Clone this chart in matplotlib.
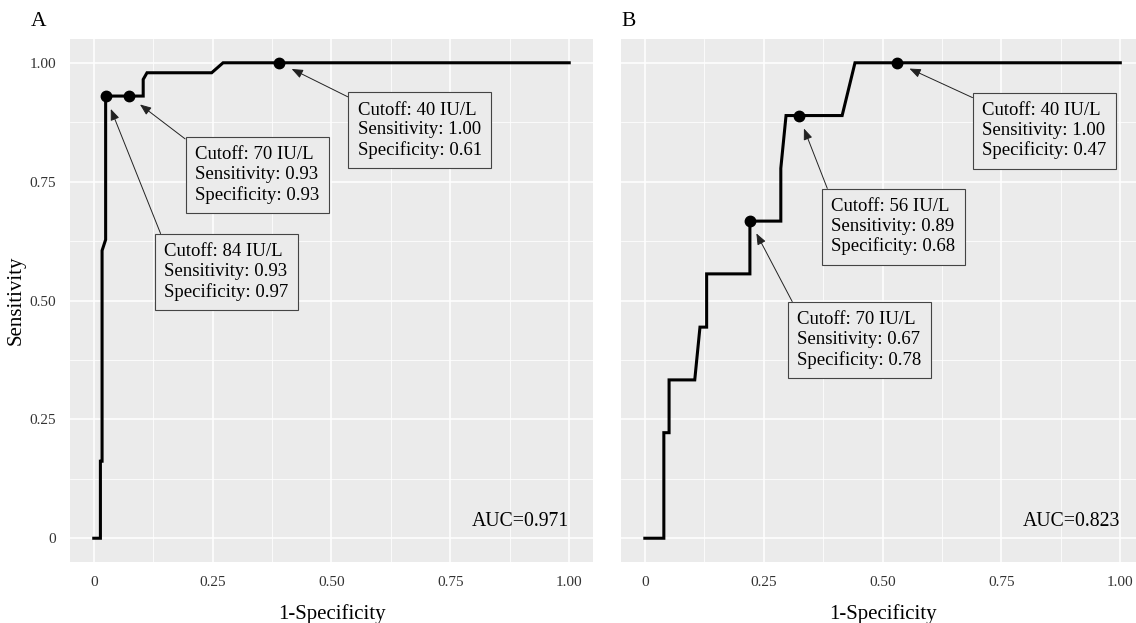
import matplotlib
matplotlib.use("Agg")
import matplotlib.pyplot as plt

plt.rcParams["font.family"] = ["Liberation Serif", "DejaVu Serif"]

# ROC curve A
a_fpr = [0.0, 0.014, 0.014, 0.0175, 0.0175, 0.025, 0.025, 0.074, 0.104, 0.104, 0.112, 0.248, 0.272, 1.0]
a_tpr = [0.0, 0.0, 0.162, 0.162, 0.605, 0.628, 0.93, 0.93, 0.93, 0.965, 0.979, 0.979, 1.0, 1.0]

# ROC curve B
b_fpr = [0.0, 0.04, 0.04, 0.051, 0.051, 0.105, 0.116, 0.13, 0.13, 0.221, 0.221,
         0.286, 0.286, 0.297, 0.415, 0.442, 1.0]
b_tpr = [0.0, 0.0, 0.222, 0.222, 0.333, 0.333, 0.444, 0.444, 0.556, 0.556, 0.667,
         0.667, 0.778, 0.889, 0.889, 1.0, 1.0]

# cutoff points: (1-specificity, sensitivity), cutoff, specificity
a_cut_x = [0.025, 0.074, 0.39]
a_cut_y = [0.93, 0.93, 1.0]
a_cut_val = [84, 70, 40]
a_cut_spec = [0.97, 0.93, 0.61]

b_cut_x = [0.221, 0.324, 0.53]
b_cut_y = [0.667, 0.889, 1.0]
b_cut_val = [70, 56, 40]
b_cut_spec = [0.78, 0.68, 0.47]

a_auc = 0.971
b_auc = 0.823

tick_vals = [0, 0.25, 0.5, 0.75, 1.0]
tick_labels = ["0", "0.25", "0.50", "0.75", "1.00"]
minor_vals = [0.125, 0.375, 0.625, 0.875]

# label box top-left corners (data coords)
a_box = [(0.129, 0.640), (0.193, 0.844), (0.535, 0.938)]
b_box = [(0.301, 0.497), (0.372, 0.735), (0.690, 0.937)]

BG = "#EBEBEB"
FS = 13.5
PAD = 0.5
PAD_D = PAD * FS * 100 / 72 / 474.5


def style_axes(ax, show_y):
    ax.set_facecolor(BG)
    ax.set_xlim(-0.05, 1.05)
    ax.set_ylim(-0.05, 1.05)
    ax.set_xticks(tick_vals)
    ax.set_xticklabels(tick_labels)
    ax.set_yticks(tick_vals)
    ax.set_yticklabels(tick_labels if show_y else [])
    ax.set_xticks(minor_vals, minor=True)
    ax.set_yticks(minor_vals, minor=True)
    ax.grid(which="major", color="white", lw=1.1)
    ax.grid(which="minor", color="white", lw=0.55)
    ax.set_axisbelow(True)
    ax.tick_params(which="both", length=0, labelsize=11, labelcolor="#333333", pad=10)
    for s in ax.spines.values():
        s.set_visible(False)
    ax.set_xlabel("1-Specificity", fontsize=15, labelpad=11)
    if show_y:
        ax.set_ylabel("Sensitivity", fontsize=15, labelpad=3)


def draw_panel(ax, fpr, tpr, cx, cy, cval, cspec, boxes, auc):
    ax.plot(fpr, tpr, color="black", lw=2.2, solid_joinstyle="miter", zorder=3)
    ax.plot(cx, cy, "o", color="black", ms=7.5, zorder=4)
    for x, y, v, sp, (bx, by) in zip(cx, cy, cval, cspec, boxes):
        txt = f"Cutoff: {v} IU/L\nSensitivity: {y:.2f}\nSpecificity: {sp:.2f}"
        ax.annotate(
            txt,
            xy=(x, y),
            xytext=(bx + PAD_D, by - PAD_D),
            ha="left",
            va="top",
            fontsize=FS,
            linespacing=1.2,
            bbox=dict(boxstyle=f"square,pad={PAD}", fc=BG, ec="#444444", lw=0.8),
            arrowprops=dict(arrowstyle="-|>,head_length=0.5,head_width=0.2",
                            color="#222222", lw=0.7, relpos=(0, 1),
                            shrinkA=0, shrinkB=10),
            zorder=5,
        )
    ax.text(0.898, 0.036, f"AUC={auc:.3f}", fontsize=14.2, ha="center", va="center")


fig = plt.figure(figsize=(11.36, 6.23), dpi=100)
ax_a = fig.add_axes([0.0616, 0.0979, 0.4604, 0.8395])
ax_b = fig.add_axes([0.5467, 0.0979, 0.4604, 0.8395])

style_axes(ax_a, True)
style_axes(ax_b, False)

draw_panel(ax_a, a_fpr, a_tpr, a_cut_x, a_cut_y, a_cut_val, a_cut_spec, a_box, a_auc)
draw_panel(ax_b, b_fpr, b_tpr, b_cut_x, b_cut_y, b_cut_val, b_cut_spec, b_box, b_auc)

fig.text(39 / 1136, 1 - 22 / 623, "A", fontsize=15.5, ha="center", va="center")
fig.text(629 / 1136, 1 - 22 / 623, "B", fontsize=15.5, ha="center", va="center")

fig.savefig("out.png", dpi=100)
